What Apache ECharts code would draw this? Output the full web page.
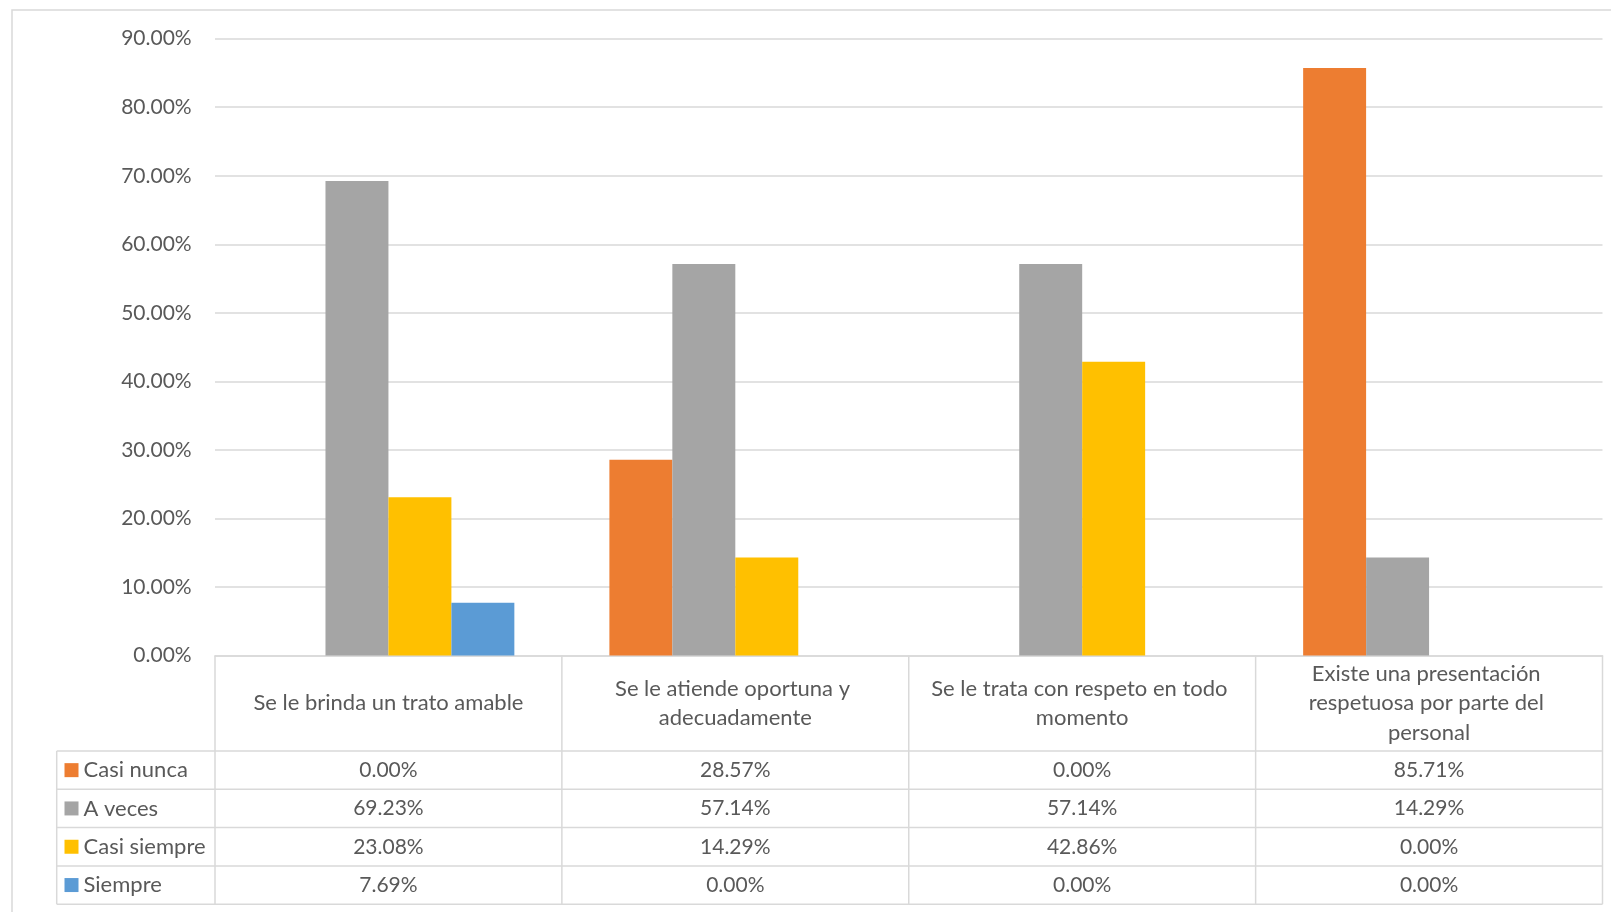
<!DOCTYPE html>
<html>
<head>
<meta charset="utf-8">
<title>Trato del personal</title>
<script src="https://cdn.jsdelivr.net/npm/echarts@6/dist/echarts.min.js"></script>
<style>
  html, body { margin: 0; padding: 0; background: #ffffff; }
  #chart { width: 1611px; height: 912px; }
</style>
</head>
<body>
<div id="chart"></div>
<script>
// Survey items (table columns / x categories)
const categories = [
  'Se le brinda un trato amable',
  'Se le atiende oportuna y adecuadamente',
  'Se le trata con respeto en todo momento',
  'Existe una presentación respetuosa por parte del personal'
];

// Answer options (series / table rows)
const seriesNames = ['Casi nunca', 'A veces', 'Casi siempre', 'Siempre'];

// Percentages per answer option, in category order
const casiNunca   = [0.00, 28.57, 0.00, 85.71];
const aVeces      = [69.23, 57.14, 57.14, 14.29];
const casiSiempre = [23.08, 14.29, 42.86, 0.00];
const siempre     = [7.69, 0.00, 0.00, 0.00];

// Value axis ticks
const yMin = 0;
const yMax = 90;
const yStep = 10;

const seriesValues = [casiNunca, aVeces, casiSiempre, siempre];
const colors = ['#ED7D31', '#A5A5A5', '#FFC000', '#5B9BD5'];

// Layout
const W = 1611, H = 912;
const FONT = 'Lato, "Open Sans", sans-serif';
const TEXT = '#595959';
const LINE = '#d9d9d9';
const gridLeft = 215, gridRight = 8.5, gridTop = 38.7, axisY = 655.5;
const headerH = 95.5, rowH = 38.3, tableLeft = 56.7;
const plotRight = W - gridRight;
const colW = (plotRight - gridLeft) / categories.length;
const rowsTop = axisY + headerH;
const tableBottom = rowsTop + rowH * seriesNames.length;

const fmt = v => v.toFixed(2) + '%';

// Main category axis: carries the header row of the data table
const xAxes = [{
  type: 'category',
  data: categories,
  gridIndex: 0,
  position: 'bottom',
  axisLine: { show: true, lineStyle: { color: LINE, width: 1.5 } },
  axisTick: { show: false },
  splitLine: { show: false },
  axisLabel: {
    interval: 0,
    margin: headerH / 2,
    verticalAlign: 'middle',
    align: 'center',
    width: 308,
    overflow: 'break',
    lineHeight: 29.5,
    color: TEXT,
    fontFamily: FONT,
    fontSize: 22
  }
}];

// One extra axis per table row, showing that row's values under each column
seriesValues.forEach((vals, i) => {
  xAxes.push({
    type: 'category',
    data: categories,
    gridIndex: 0,
    position: 'bottom',
    offset: headerH + rowH * i,
    axisLine: { show: false },
    axisTick: { show: false },
    splitLine: { show: false },
    axisLabel: {
      interval: 0,
      margin: rowH / 2,
      verticalAlign: 'middle',
      align: 'center',
      color: TEXT,
      fontFamily: FONT,
      fontSize: 21,
      formatter: (value, idx) => fmt(vals[idx])
    }
  });
});

// Row keys of the data table: one legend entry per row
const legendLineH = 22;
const legends = seriesNames.map((name, i) => ({
  orient: 'vertical',
  left: 64.5,
  top: rowsTop + rowH * i + rowH / 2 - legendLineH / 2,
  padding: 0,
  icon: 'rect',
  itemWidth: 14,
  itemHeight: 14,
  data: [name],
  textStyle: { color: TEXT, fontFamily: FONT, fontSize: 22, lineHeight: legendLineH },
  selectedMode: false
}));

// Table rules
const lineStyle = { stroke: LINE, lineWidth: 1.5 };
const tableLines = [];
for (let r = 0; r <= seriesNames.length; r++) {
  const y = rowsTop + rowH * r;
  tableLines.push({ type: 'line', shape: { x1: tableLeft, y1: y, x2: plotRight, y2: y }, style: lineStyle, silent: true });
}
tableLines.push({ type: 'line', shape: { x1: tableLeft, y1: rowsTop, x2: tableLeft, y2: tableBottom }, style: lineStyle, silent: true });
for (let c = 0; c <= categories.length; c++) {
  const x = gridLeft + colW * c;
  tableLines.push({ type: 'line', shape: { x1: x, y1: axisY, x2: x, y2: tableBottom }, style: lineStyle, silent: true });
}
// Chart area border
tableLines.push({ type: 'rect', shape: { x: 12, y: 10, width: W + 40, height: H + 40 }, style: { stroke: LINE, lineWidth: 1.5, fill: null }, silent: true });

const option = {
  backgroundColor: '#ffffff',
  animation: false,
  grid: {
    left: gridLeft,
    right: gridRight,
    top: gridTop,
    bottom: H - axisY,
    containLabel: false,
    outerBoundsMode: 'none'
  },
  legend: legends,
  xAxis: xAxes,
  yAxis: {
    type: 'value',
    min: yMin,
    max: yMax,
    interval: yStep,
    axisLine: { show: false },
    axisTick: { show: false },
    splitLine: { show: true, lineStyle: { color: LINE, width: 1.5 } },
    axisLabel: {
      margin: 23.3,
      color: TEXT,
      fontFamily: FONT,
      fontSize: 21,
      formatter: v => fmt(v)
    }
  },
  series: seriesNames.map((name, i) => ({
    name: name,
    type: 'bar',
    xAxisIndex: 0,
    data: seriesValues[i],
    barGap: 0,
    barCategoryGap: '27.4%',
    itemStyle: { color: colors[i] }
  })),
  graphic: tableLines
};

const chart = echarts.init(document.getElementById('chart'), null, { renderer: 'canvas', width: W, height: H });
chart.setOption(option);
</script>
</body>
</html>
